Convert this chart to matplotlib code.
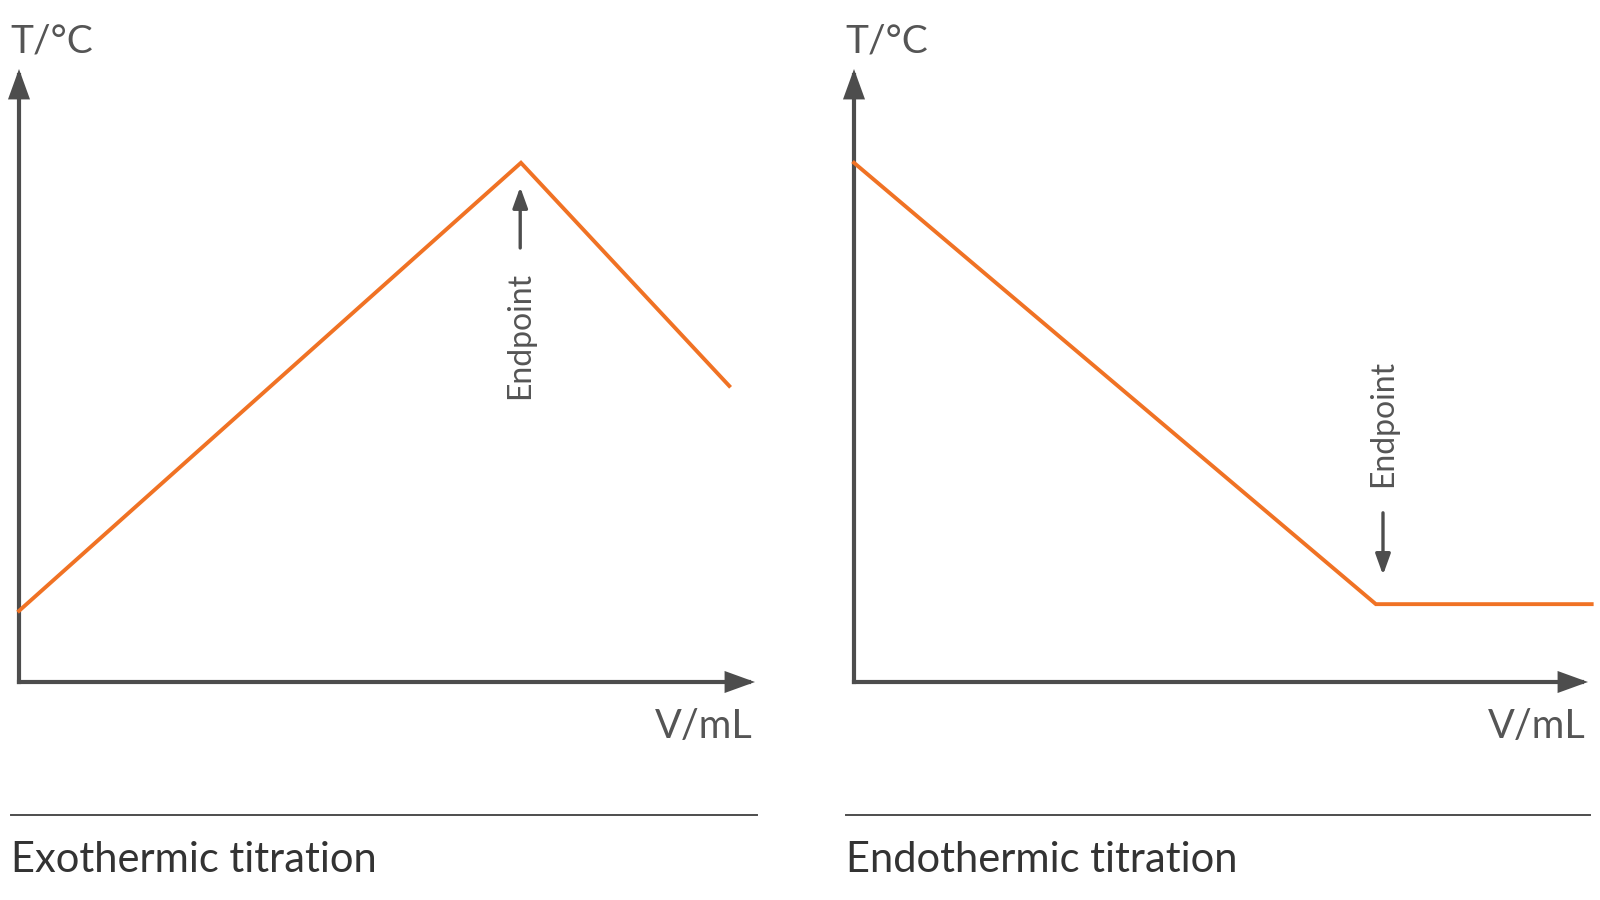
import matplotlib
matplotlib.use("Agg")
import matplotlib.pyplot as plt

# ---- data (normalized volume / temperature units) ----
exo_volume = [0.0, 0.682, 0.965]
exo_temp = [0.116, 0.847, 0.483]
exo_endpoint_volume = 0.681

endo_volume = [0.0, 0.711, 1.005]
endo_temp = [0.847, 0.127, 0.127]
endo_endpoint_volume = 0.7207

panel_titles = ["Exothermic titration", "Endothermic titration"]
y_label = "T/°C"
x_label = "V/mL"
endpoint_label = "Endpoint"

ORANGE = "#F07224"
AXIS = "#4D4D4D"
TEXT = "#333333"
LABEL = "#555555"
FONT = ["Lato", "DejaVu Sans"]

plt.rcParams["font.family"] = FONT

fig = plt.figure(figsize=(16, 9), dpi=100)
fig.patch.set_facecolor("white")

W, H = 1600.0, 900.0
bottom = (H - 682) / H
height = (682 - 69) / H
panels = [
    dict(left=19, right=755, vol=exo_volume, temp=exo_temp, ep=exo_endpoint_volume,
         arrow=(0.708, 0.8075), text_y=0.566, title=panel_titles[0]),
    dict(left=854, right=1588, vol=endo_volume, temp=endo_temp, ep=endo_endpoint_volume,
         arrow=(0.276, 0.1746), text_y=0.4225, title=panel_titles[1]),
]

for p in panels:
    ax = fig.add_axes([p["left"] / W, bottom, (p["right"] - p["left"]) / W, height])
    ax.set_xlim(0, 1)
    ax.set_ylim(0, 1)
    ax.axis("off")
    # axes arrows
    for tip in [(1, 0), (0, 1)]:
        ax.annotate("", xy=tip, xytext=(0, 0), xycoords="data",
                    arrowprops=dict(arrowstyle="-|>,head_length=1.6,head_width=0.58",
                                    mutation_scale=10, color=AXIS, lw=3,
                                    shrinkA=0, shrinkB=0, joinstyle="miter",
                                    capstyle="projecting"),
                    annotation_clip=False)
    # curve
    ax.plot(p["vol"], p["temp"], color=ORANGE, lw=2.8, solid_joinstyle="miter",
            clip_on=False, zorder=3)
    # endpoint arrow
    ax.annotate("", xy=(p["ep"], p["arrow"][1]), xytext=(p["ep"], p["arrow"][0]),
                arrowprops=dict(arrowstyle="-|>,head_length=1.25,head_width=0.45",
                                mutation_scale=10, color=AXIS, lw=2.4,
                                shrinkA=0, shrinkB=0))
    ax.text(p["ep"], p["text_y"], endpoint_label, rotation=90, ha="center", va="center",
            fontsize=23, color=LABEL)
    # labels
    fig.text((p["left"] - 9) / W, 1 - 53 / H, y_label, ha="left", va="baseline",
             fontsize=28, color=LABEL)
    fig.text((p["right"] - 2) / W, 1 - 738 / H, x_label, ha="right", va="baseline",
             fontsize=28.5, color=LABEL)
    # separator and title
    fig.add_artist(plt.Line2D([(p["left"] - 8) / W, (p["right"] + 2) / W],
                              [1 - 815 / H, 1 - 815 / H], color=AXIS, lw=1.4))
    fig.text((p["left"] - 8) / W, 1 - 872 / H, p["title"], ha="left", va="baseline",
             fontsize=30, color=TEXT)

fig.savefig("out.png", dpi=100, facecolor="white")
